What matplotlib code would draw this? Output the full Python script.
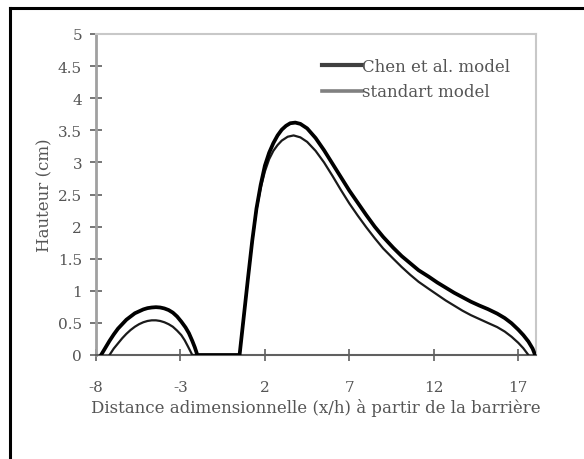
import matplotlib
matplotlib.use("Agg")
import matplotlib.pyplot as plt
from matplotlib.lines import Line2D

# Data
chen_x = [-7.7, -7.45, -7.2, -6.95, -6.7, -6.45, -6.2, -5.95, -5.7, -5.45, -5.2, -4.95, -4.7,
          -4.45, -4.2, -3.95, -3.7, -3.45, -3.2, -2.95, -2.7, -2.5, -2.3, -2.15, -2.0,
          0.5, 0.75, 1.0, 1.25, 1.5, 1.75, 2.0, 2.25, 2.5, 2.75, 3.0, 3.25, 3.5, 3.8, 4.1,
          4.5, 5.0, 5.5, 6.0, 6.5, 7.0, 7.5, 8.0, 8.5, 9.0, 9.6, 10.1, 10.6, 11.1, 11.7,
          12.2, 12.7, 13.2, 13.7, 14.2, 14.7, 15.2, 15.75, 16.2, 16.6, 17.0, 17.3, 17.6,
          17.85, 18.0]
chen_y = [0.0, 0.11, 0.22, 0.32, 0.41, 0.48, 0.55, 0.6, 0.65, 0.68, 0.71, 0.73, 0.74,
          0.745, 0.74, 0.725, 0.7, 0.66, 0.6, 0.52, 0.43, 0.34, 0.22, 0.12, 0.0,
          0.0, 0.6, 1.2, 1.78, 2.28, 2.65, 2.95, 3.15, 3.3, 3.42, 3.51, 3.57, 3.61, 3.62, 3.6,
          3.53, 3.38, 3.19, 2.98, 2.77, 2.56, 2.37, 2.18, 2.0, 1.84, 1.67, 1.54, 1.43, 1.32,
          1.22, 1.13, 1.05, 0.97, 0.9, 0.83, 0.77, 0.715, 0.645, 0.575, 0.495, 0.395, 0.31,
          0.21, 0.1, 0.0]

std_x = [-7.2, -6.95, -6.7, -6.45, -6.2, -5.95, -5.7, -5.45, -5.2, -4.95, -4.7, -4.45,
         -4.2, -3.95, -3.7, -3.45, -3.2, -2.95, -2.75, -2.55, -2.3,
         0.5, 0.75, 1.0, 1.25, 1.5, 1.75, 2.0, 2.25, 2.5, 2.75, 3.0, 3.35, 3.7, 4.1, 4.5,
         5.0, 5.5, 6.0, 6.5, 7.0, 7.5, 8.0, 8.5, 9.0, 9.6, 10.1, 10.6, 11.1, 11.7, 12.2,
         12.7, 13.2, 13.7, 14.2, 14.7, 15.2, 15.75, 16.2, 16.6, 17.0, 17.3, 17.6]
std_y = [0.0, 0.1, 0.18, 0.26, 0.33, 0.39, 0.44, 0.48, 0.51, 0.53, 0.54, 0.54,
         0.53, 0.51, 0.48, 0.44, 0.38, 0.31, 0.23, 0.13, 0.0,
         0.0, 0.6, 1.2, 1.77, 2.26, 2.6, 2.86, 3.05, 3.18, 3.27, 3.34, 3.4, 3.42, 3.39, 3.32,
         3.18, 3.0, 2.79, 2.57, 2.36, 2.17, 1.99, 1.82, 1.66, 1.5, 1.37, 1.25, 1.14, 1.03,
         0.94, 0.85, 0.77, 0.69, 0.62, 0.56, 0.5, 0.435, 0.365, 0.285, 0.19, 0.105, 0.0]

x_ticks = [-8, -3, 2, 7, 12, 17]
y_ticks = [0, 0.5, 1, 1.5, 2, 2.5, 3, 3.5, 4, 4.5, 5]
y_tick_labels = ["0", "0.5", "1", "1.5", "2", "2.5", "3", "3.5", "4", "4.5", "5"]

series_names = ["Chen et al. model", "standart model"]
x_label = "Distance adimensionnelle (x/h) à partir de la barrière"
y_label = "Hauteur (cm)"

plt.rcParams['font.family'] = ['DejaVu Serif']

fig = plt.figure(figsize=(5.84, 4.60), dpi=100)
ax = fig.add_axes([96/584, 1-356/460, 440/584, 321/460])

ax.plot(chen_x, chen_y, color='black', lw=2.7, solid_joinstyle='round', zorder=4)
ax.plot(std_x, std_y, color='#1a1a1a', lw=1.6, solid_joinstyle='round', zorder=3)

ax.set_xlim(-8, 18.05)
ax.set_ylim(0, 5)
ax.set_xticks(x_ticks)
ax.set_xticklabels([str(t) for t in x_ticks])
ax.set_yticks(y_ticks)
ax.set_yticklabels(y_tick_labels)

for side in ['top', 'right']:
    ax.spines[side].set_color('#c8c8c8')
    ax.spines[side].set_linewidth(1.5)
ax.spines['left'].set_color('#a0a0a0')
ax.spines['left'].set_linewidth(2.0)
ax.spines['bottom'].set_color('#606060')
ax.spines['bottom'].set_linewidth(1.5)

ax.tick_params(axis='both', direction='inout', length=8, width=1.2, color='#606060',
               labelsize=11, labelcolor='#555555')
ax.tick_params(axis='x', pad=14)
ax.tick_params(axis='y', pad=6)

ax.set_xlabel(x_label, fontsize=12, color='#555555')
ax.xaxis.set_label_coords(0.5, -0.135)
ax.set_ylabel(y_label, fontsize=12, color='#555555')
ax.yaxis.set_label_coords(-0.098, 0.5)

handles = [Line2D([0], [0], color='#404040', lw=3.0),
           Line2D([0], [0], color='#808080', lw=2.6)]
ax.legend(handles, series_names, loc='upper left', bbox_to_anchor=(0.514, 0.925),
          frameon=False, fontsize=12, handlelength=2.4, handletextpad=0.0,
          labelspacing=0.5, labelcolor='#555555', borderpad=0, borderaxespad=0)

# outer frame (left and top edges visible)
fig.add_artist(Line2D([10/584, 10/584], [0, 1-9/460], color='black', lw=2.2,
                      transform=fig.transFigure))
fig.add_artist(Line2D([10/584, 1], [1-9/460, 1-9/460], color='black', lw=2.2,
                      transform=fig.transFigure))

fig.savefig("out.png", dpi=100)
